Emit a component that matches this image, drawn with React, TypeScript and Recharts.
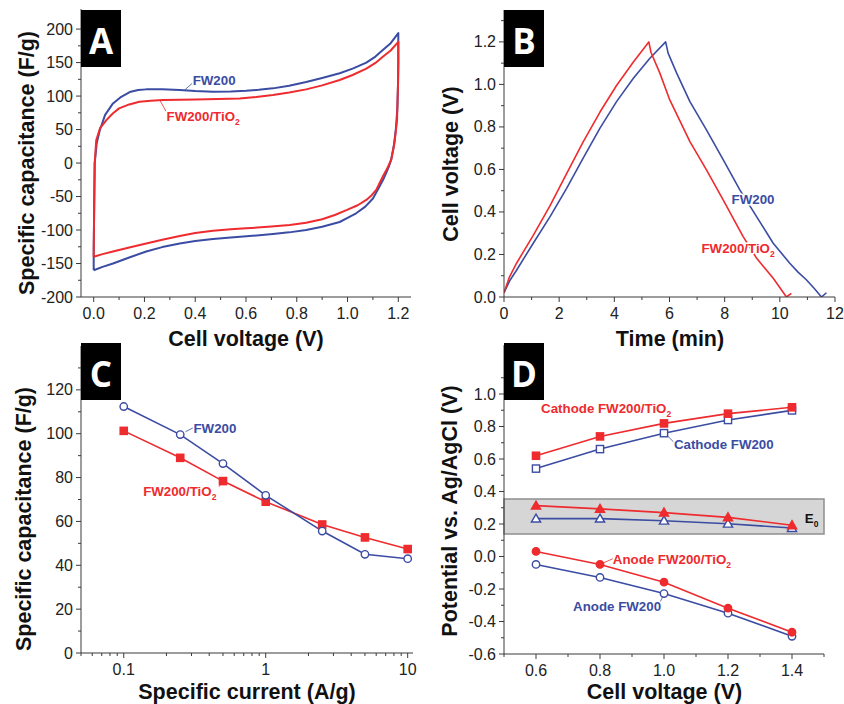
import React from "react";
import {
  ComposedChart,
  Line,
  XAxis,
  YAxis,
  ReferenceArea,
  ReferenceDot,
  ReferenceLine,
} from "recharts";

const BLUE = "#3b4ca3";
const RED = "#ee2b2e";
const AXIS = "#3a3a3a";
const FONT = "'Liberation Sans', Arial, sans-serif";

// ---- A: cyclic voltammograms (loops, read in drawing order)
const cvFw200Voltage = [
  0, 0, 0.004, 0.012, 0.024, 0.045, 0.076, 0.105, 0.142, 0.175, 0.207, 0.27,
  0.339, 0.4, 0.47, 0.54, 0.6, 0.65, 0.706, 0.77, 0.837, 0.9, 0.969, 1.02,
  1.074, 1.11, 1.139, 1.17, 1.2, 1.2, 1.199, 1.196, 1.19, 1.182, 1.172, 1.162,
  1.152, 1.14, 1.126, 1.113, 1.1, 1.07, 1.034, 1.0, 0.969, 0.9, 0.837, 0.77,
  0.706, 0.614, 0.54, 0.47, 0.4, 0.339, 0.27, 0.207, 0.14, 0.076, 0.035, 0,
];
const cvFw200Cap = [
  -160, -128, 0, 30, 49, 72, 89, 98, 106, 109, 110, 110.3, 109, 107.5, 106.4,
  106.8, 107.8, 109.3, 111.5, 115.5, 121, 127, 134, 141, 150, 159, 168.7, 179,
  194, 150, 120, 80, 49, 25, 5, -6, -15, -25, -35, -44, -53, -65, -75, -82,
  -88, -95, -100, -103.5, -106, -109, -111, -113.4, -116.5, -120, -125.5,
  -132, -141, -150, -155, -160,
];
const cvTiO2Voltage = [
  0, 0.002, 0.004, 0.01, 0.025, 0.05, 0.075, 0.1, 0.14, 0.18, 0.225, 0.273,
  0.34, 0.404, 0.49, 0.575, 0.64, 0.706, 0.77, 0.837, 0.9, 0.969, 1.02, 1.074,
  1.11, 1.139, 1.17, 1.2, 1.2, 1.199, 1.195, 1.185, 1.172, 1.155, 1.139, 1.125,
  1.113, 1.095, 1.074, 1.04, 0.998, 0.95, 0.9, 0.837, 0.772, 0.7, 0.6, 0.54,
  0.47, 0.4, 0.339, 0.27, 0.207, 0.14, 0.076, 0.035, 0,
];
const cvTiO2Cap = [
  -140, -60, 0, 34, 52, 64, 74, 81.6, 87.5, 91.5, 93, 94, 94.6, 95, 95.7,
  96.5, 98.5, 101.5, 105.3, 110, 116, 124, 131.5, 141, 149.5, 158.7, 168, 181,
  150, 120, 64, 30, 5, -9, -20, -31, -40, -48, -55, -63, -70, -77.5, -84, -89,
  -92.5, -94.8, -97.5, -99, -101, -104.5, -109, -114.5, -120, -126, -132,
  -136, -140,
];

// ---- B: charge / discharge
const gcdFw200Time = [
  0, 0.2, 0.46, 1.06, 1.67, 2.27, 2.87, 3.48, 4.08, 4.69, 5.29, 5.86, 5.95,
  6.26, 6.74, 7.34, 7.95, 8.55, 8.97, 9.76, 10.36, 10.66, 10.97, 11.25, 11.51,
  11.69,
];
const gcdFw200Volt = [
  0.02, 0.075, 0.127, 0.253, 0.378, 0.511, 0.653, 0.794, 0.919, 1.029, 1.123,
  1.2, 1.147, 1.053, 0.919, 0.786, 0.645, 0.504, 0.417, 0.253, 0.159, 0.117,
  0.08, 0.04, 0, 0.02,
];
const gcdTiO2Time = [
  0, 0.2, 0.46, 1.06, 1.67, 2.27, 2.87, 3.48, 4.08, 4.69, 5.25, 5.33, 5.65,
  6.01, 6.74, 7.34, 7.95, 8.67, 9.16, 9.76, 10.24, 10.42,
];
const gcdTiO2Volt = [
  0.02, 0.095, 0.16, 0.29, 0.43, 0.58, 0.73, 0.87, 0.995, 1.105, 1.2, 1.15,
  1.053, 0.927, 0.731, 0.598, 0.456, 0.284, 0.182, 0.088, 0, 0.017,
];

// ---- C: rate capability
const rateCurrent = [0.1, 0.25, 0.5, 1, 2.5, 5, 10];
const rateFw200 = [112.4, 99.6, 86.4, 71.9, 55.6, 45, 43];
const rateTiO2 = [101.3, 89, 78.4, 69, 58.6, 52.7, 47.4];

// ---- D: electrode potentials
const cellVoltage = [0.6, 0.8, 1.0, 1.2, 1.4];
const cathodeTiO2 = [0.62, 0.739, 0.819, 0.879, 0.918];
const cathodeFw200 = [0.541, 0.661, 0.759, 0.84, 0.899];
const e0TiO2 = [0.313, 0.293, 0.27, 0.241, 0.192];
const e0Fw200 = [0.233, 0.233, 0.22, 0.202, 0.175];
const anodeTiO2 = [0.031, -0.049, -0.158, -0.318, -0.466];
const anodeFw200 = [-0.049, -0.129, -0.228, -0.349, -0.491];
const e0Band = [0.138, 0.354];

// ---- ticks
const aXMajor = [0, 0.2, 0.4, 0.6, 0.8, 1.0, 1.2];
const aXMinor = [0.1, 0.3, 0.5, 0.7, 0.9, 1.1];
const aYMajor = [-200, -150, -100, -50, 0, 50, 100, 150, 200];
const aYMinor = [-175, -125, -75, -25, 25, 75, 125, 175];
const bXMajor = [0, 2, 4, 6, 8, 10, 12];
const bXMinor = [1, 3, 5, 7, 9, 11];
const bYMajor = [0, 0.2, 0.4, 0.6, 0.8, 1.0, 1.2];
const bYMinor = [0.1, 0.3, 0.5, 0.7, 0.9, 1.1, 1.3];
const cXMajor = [0.1, 1, 10];
const cXMinor = [
  0.05, 0.06, 0.07, 0.08, 0.09, 0.2, 0.3, 0.4, 0.5, 0.6, 0.7, 0.8, 0.9, 2, 3,
  4, 5, 6, 7, 8, 9,
];
const cYMajor = [0, 20, 40, 60, 80, 100, 120];
const cYMinor = [10, 30, 50, 70, 90, 110, 130];
const dXMajor = [0.6, 0.8, 1.0, 1.2, 1.4];
const dXMinor = [0.5, 0.7, 0.9, 1.1, 1.3, 1.5];
const dYMajor = [-0.6, -0.4, -0.2, 0, 0.2, 0.4, 0.6, 0.8, 1.0];
const dYMinor = [-0.5, -0.3, -0.1, 0.1, 0.3, 0.5, 0.7, 0.9, 1.1];

const zip = (xs: number[], ys: number[]) =>
  xs.map((x, i) => ({ x, y: ys[i] }));

type TickProps = {
  x?: number;
  y?: number;
  payload?: { value: number };
  side: "bottom" | "left";
  majors: number[];
  fmt: (v: number) => string;
};

// draws its own tick line (long for majors, short for minors) plus the label
function AxisTick({ x = 0, y = 0, payload, side, majors, fmt }: TickProps) {
  const v = payload ? payload.value : 0;
  const major = majors.some((m) => Math.abs(m - v) < 1e-9);
  const len = major ? 5 : 3;
  if (side === "bottom") {
    return (
      <g>
        <line x1={x} y1={y} x2={x} y2={y + len} stroke={AXIS} />
        {major && (
          <text x={x} y={y + 22} textAnchor="middle" fontFamily={FONT} fontSize={16} fill="#222">
            {fmt(v)}
          </text>
        )}
      </g>
    );
  }
  return (
    <g>
      <line x1={x - len} y1={y} x2={x} y2={y} stroke={AXIS} />
      {major && (
        <text x={x - 8} y={y + 5.5} textAnchor="end" fontFamily={FONT} fontSize={16} fill="#222">
          {fmt(v)}
        </text>
      )}
    </g>
  );
}

type AnnotProps = {
  cx?: number;
  cy?: number;
  text: string;
  sub?: string;
  color: string;
  halo?: boolean;
};

function Annot({ cx = 0, cy = 0, text, sub, color, halo = true }: AnnotProps) {
  return (
    <text
      x={cx}
      y={cy + 4.6}
      fill={color}
      fontFamily={FONT}
      fontWeight="bold"
      fontSize={13.3}
      stroke={halo ? "#fff" : "none"}
      strokeWidth={3}
      paintOrder="stroke"
      strokeLinejoin="round"
    >
      {text}
      {sub && (
        <tspan dy={4} fontSize={8.5}>
          {sub}
        </tspan>
      )}
    </text>
  );
}

type MarkerProps = {
  cx?: number;
  cy?: number;
  kind: "square" | "circle" | "triangle";
  color: string;
  filled: boolean;
};

function Marker({ cx = 0, cy = 0, kind, color, filled }: MarkerProps) {
  const fill = filled ? color : "#fff";
  if (kind === "square")
    return <rect x={cx - 3.6} y={cy - 3.6} width={7.2} height={7.2} fill={fill} stroke={color} strokeWidth={1.4} />;
  if (kind === "circle")
    return <circle cx={cx} cy={cy} r={3.7} fill={fill} stroke={color} strokeWidth={1.4} />;
  return (
    <polygon
      points={`${cx},${cy - 4.6} ${cx + 4.6},${cy + 3.4} ${cx - 4.6},${cy + 3.4}`}
      fill={fill}
      stroke={color}
      strokeWidth={1.4}
    />
  );
}

const dotOf = (kind: MarkerProps["kind"], color: string, filled: boolean) =>
  (p: any) => <Marker key={p.index} cx={p.cx} cy={p.cy} kind={kind} color={color} filled={filled} />;

const xAxisCommon = {
  type: "number" as const,
  dataKey: "x",
  allowDataOverflow: true,
  interval: 0 as const,
  tickLine: false,
  tickSize: 0,
  tickMargin: 0,
  stroke: AXIS,
};
const yAxisCommon = {
  type: "number" as const,
  allowDataOverflow: true,
  interval: 0 as const,
  tickLine: false,
  tickSize: 0,
  tickMargin: 0,
  stroke: AXIS,
};

const fmt1 = (v: number) => v.toFixed(1);
const fmt0 = (v: number) => String(v);

function PanelA() {
  return (
    <ComposedChart width={422} height={352} margin={{ top: 9, right: 11, bottom: 0, left: 0 }}>
      <XAxis
        {...xAxisCommon}
        domain={[-0.05, 1.25]}
        ticks={[...aXMajor, ...aXMinor]}
        height={55}
        tick={<AxisTick side="bottom" majors={aXMajor} fmt={fmt1} />}
      />
      <YAxis
        {...yAxisCommon}
        domain={[-200, 230]}
        ticks={[...aYMajor, ...aYMinor]}
        width={81}
        tick={<AxisTick side="left" majors={aYMajor} fmt={fmt0} />}
      />
      <Line data={zip(cvFw200Voltage, cvFw200Cap)} dataKey="y" type="linear" stroke={BLUE} strokeWidth={2} strokeLinejoin="round" dot={false} isAnimationActive={false} />
      <Line data={zip(cvTiO2Voltage, cvTiO2Cap)} dataKey="y" type="linear" stroke={RED} strokeWidth={2} strokeLinejoin="round" dot={false} isAnimationActive={false} />
      <ReferenceLine segment={[{ x: 0.358, y: 109 }, { x: 0.388, y: 119 }]} stroke={BLUE} strokeWidth={0.8} />
      <ReferenceLine segment={[{ x: 0.262, y: 93 }, { x: 0.285, y: 77 }]} stroke={RED} strokeWidth={0.8} />
      <ReferenceDot x={0.39} y={124} r={0} shape={(p: any) => <Annot cx={p.cx} cy={p.cy} text="FW200" color={BLUE} />} />
      <ReferenceDot x={0.287} y={69} r={0} shape={(p: any) => <Annot cx={p.cx} cy={p.cy} text="FW200/TiO" sub="2" color={RED} />} />
    </ComposedChart>
  );
}

function PanelB() {
  return (
    <ComposedChart width={422} height={352} margin={{ top: 10, right: 9, bottom: 0, left: 0 }}>
      <XAxis
        {...xAxisCommon}
        domain={[0, 12]}
        ticks={[...bXMajor, ...bXMinor]}
        height={55}
        tick={<AxisTick side="bottom" majors={bXMajor} fmt={fmt0} />}
      />
      <YAxis
        {...yAxisCommon}
        domain={[0, 1.35]}
        ticks={[...bYMajor, ...bYMinor]}
        width={82}
        tick={<AxisTick side="left" majors={bYMajor} fmt={fmt1} />}
      />
      <Line data={zip(gcdFw200Time, gcdFw200Volt)} dataKey="y" type="linear" stroke={BLUE} strokeWidth={1.6} strokeLinejoin="round" dot={false} isAnimationActive={false} />
      <Line data={zip(gcdTiO2Time, gcdTiO2Volt)} dataKey="y" type="linear" stroke={RED} strokeWidth={1.6} strokeLinejoin="round" dot={false} isAnimationActive={false} />
      <ReferenceDot x={8.25} y={0.461} r={0} shape={(p: any) => <Annot cx={p.cx} cy={p.cy} text="FW200" color={BLUE} />} />
      <ReferenceDot x={7.16} y={0.23} r={0} shape={(p: any) => <Annot cx={p.cx} cy={p.cy} text="FW200/TiO" sub="2" color={RED} />} />
    </ComposedChart>
  );
}

function PanelC() {
  return (
    <ComposedChart width={422} height={364} margin={{ top: 6, right: 9, bottom: 0, left: 0 }}>
      <XAxis
        {...xAxisCommon}
        scale="log"
        domain={[0.05, 10.9]}
        ticks={[...cXMajor, ...cXMinor]}
        height={51}
        tick={<AxisTick side="bottom" majors={cXMajor} fmt={fmt0} />}
      />
      <YAxis
        {...yAxisCommon}
        domain={[0, 140]}
        ticks={[...cYMajor, ...cYMinor]}
        width={81}
        tick={<AxisTick side="left" majors={cYMajor} fmt={fmt0} />}
      />
      <Line data={zip(rateCurrent, rateTiO2)} dataKey="y" type="linear" stroke={RED} strokeWidth={1.6} dot={dotOf("square", RED, true)} isAnimationActive={false} />
      <Line data={zip(rateCurrent, rateFw200)} dataKey="y" type="linear" stroke={BLUE} strokeWidth={1.6} dot={dotOf("circle", BLUE, false)} isAnimationActive={false} />
      <ReferenceLine segment={[{ x: 0.272, y: 100.9 }, { x: 0.308, y: 102.7 }]} stroke={BLUE} strokeWidth={0.8} />
      <ReferenceLine segment={[{ x: 0.468, y: 75.8 }, { x: 0.5, y: 78.4 }]} stroke={RED} strokeWidth={0.8} />
      <ReferenceDot x={0.31} y={102.3} r={0} shape={(p: any) => <Annot cx={p.cx} cy={p.cy} text="FW200" color={BLUE} />} />
      <ReferenceDot x={0.137} y={73.5} r={0} shape={(p: any) => <Annot cx={p.cx} cy={p.cy} text="FW200/TiO" sub="2" color={RED} />} />
    </ComposedChart>
  );
}

function PanelD() {
  return (
    <ComposedChart width={422} height={364} margin={{ top: 5.25, right: 20, bottom: 0, left: 0 }}>
      <XAxis
        {...xAxisCommon}
        domain={[0.5, 1.5]}
        ticks={[...dXMajor, ...dXMinor]}
        height={50}
        tick={<AxisTick side="bottom" majors={dXMajor} fmt={fmt1} />}
      />
      <YAxis
        {...yAxisCommon}
        domain={[-0.6, 1.3]}
        ticks={[...dYMajor, ...dYMinor]}
        width={82}
        tick={<AxisTick side="left" majors={dYMajor} fmt={fmt1} />}
      />
      <ReferenceArea x1={0.5} x2={1.5} y1={e0Band[0]} y2={e0Band[1]} fill="#d6d6d6" fillOpacity={1} stroke="#8e8e8e" strokeWidth={1.5} />
      <Line data={zip(cellVoltage, cathodeFw200)} dataKey="y" type="linear" stroke={BLUE} strokeWidth={1.6} dot={dotOf("square", BLUE, false)} isAnimationActive={false} />
      <Line data={zip(cellVoltage, cathodeTiO2)} dataKey="y" type="linear" stroke={RED} strokeWidth={1.6} dot={dotOf("square", RED, true)} isAnimationActive={false} />
      <Line data={zip(cellVoltage, e0Fw200)} dataKey="y" type="linear" stroke={BLUE} strokeWidth={1.6} dot={dotOf("triangle", BLUE, false)} isAnimationActive={false} />
      <Line data={zip(cellVoltage, e0TiO2)} dataKey="y" type="linear" stroke={RED} strokeWidth={1.6} dot={dotOf("triangle", RED, true)} isAnimationActive={false} />
      <Line data={zip(cellVoltage, anodeFw200)} dataKey="y" type="linear" stroke={BLUE} strokeWidth={1.6} dot={dotOf("circle", BLUE, false)} isAnimationActive={false} />
      <Line data={zip(cellVoltage, anodeTiO2)} dataKey="y" type="linear" stroke={RED} strokeWidth={1.6} dot={dotOf("circle", RED, true)} isAnimationActive={false} />
      <ReferenceLine segment={[{ x: 1.009, y: 0.746 }, { x: 1.03, y: 0.705 }]} stroke={BLUE} strokeWidth={0.8} />
      <ReferenceLine segment={[{ x: 0.812, y: -0.038 }, { x: 0.84, y: -0.014 }]} stroke={RED} strokeWidth={0.8} />
      <ReferenceLine segment={[{ x: 0.988, y: -0.28 }, { x: 0.999, y: -0.235 }]} stroke={BLUE} strokeWidth={0.8} />
      <ReferenceDot x={0.616} y={0.914} r={0} shape={(p: any) => <Annot cx={p.cx} cy={p.cy} text="Cathode FW200/TiO" sub="2" color={RED} />} />
      <ReferenceDot x={1.031} y={0.692} r={0} shape={(p: any) => <Annot cx={p.cx} cy={p.cy} text="Cathode FW200" color={BLUE} />} />
      <ReferenceDot x={1.44} y={0.237} r={0} shape={(p: any) => <Annot cx={p.cx} cy={p.cy} text="E" sub="0" color="#111" halo={false} />} />
      <ReferenceDot x={0.84} y={-0.015} r={0} shape={(p: any) => <Annot cx={p.cx} cy={p.cy} text="Anode FW200/TiO" sub="2" color={RED} />} />
      <ReferenceDot x={0.716} y={-0.305} r={0} shape={(p: any) => <Annot cx={p.cx} cy={p.cy} text="Anode FW200" color={BLUE} />} />
    </ComposedChart>
  );
}

const titleStyle = {
  fontFamily: FONT,
  fontWeight: "bold" as const,
  fontSize: 21.5,
  fill: "#111",
};

function PanelLetter({ x, y, letter }: { x: number; y: number; letter: string }) {
  return (
    <g>
      <rect x={x} y={y} width={40} height={57} fill="#000" />
      <text x={x + 20} y={y + 43.5} textAnchor="middle" fill="#fff" fontFamily="'Open Sans', sans-serif" fontWeight="bold" fontSize={35}>
        {letter}
      </text>
    </g>
  );
}

export default function App() {
  return (
    <div style={{ position: "absolute", left: 0, top: 0, width: 844, height: 704, background: "#fff" }}>
      <div style={{ position: "absolute", left: 0, top: 0 }}>
        <PanelA />
      </div>
      <div style={{ position: "absolute", left: 422, top: 0 }}>
        <PanelB />
      </div>
      <div style={{ position: "absolute", left: 0, top: 340 }}>
        <PanelC />
      </div>
      <div style={{ position: "absolute", left: 422, top: 340 }}>
        <PanelD />
      </div>
      <svg width={844} height={704} style={{ position: "absolute", left: 0, top: 0, pointerEvents: "none" }}>
        <text x={246} y={346} textAnchor="middle" {...titleStyle}>Cell voltage (V)</text>
        <text transform="translate(33.5,163) rotate(-90)" textAnchor="middle" {...titleStyle}>Specific capacitance (F/g)</text>
        <text x={670} y={346} textAnchor="middle" {...titleStyle}>Time (min)</text>
        <text transform="translate(457.5,164) rotate(-90)" textAnchor="middle" {...titleStyle}>Cell voltage (V)</text>
        <text x={247} y={699} textAnchor="middle" {...titleStyle}>Specific current (A/g)</text>
        <text transform="translate(30.5,519) rotate(-90)" textAnchor="middle" {...titleStyle}>Specific capacitance (F/g)</text>
        <text x={664.5} y={699} textAnchor="middle" {...titleStyle}>Cell voltage (V)</text>
        <text transform="translate(456.5,511) rotate(-90)" textAnchor="middle" {...titleStyle}>Potential vs. Ag/AgCl (V)</text>
        <PanelLetter x={81} y={10} letter="A" />
        <PanelLetter x={504} y={10} letter="B" />
        <PanelLetter x={81} y={343} letter="C" />
        <PanelLetter x={504} y={343} letter="D" />
      </svg>
    </div>
  );
}
